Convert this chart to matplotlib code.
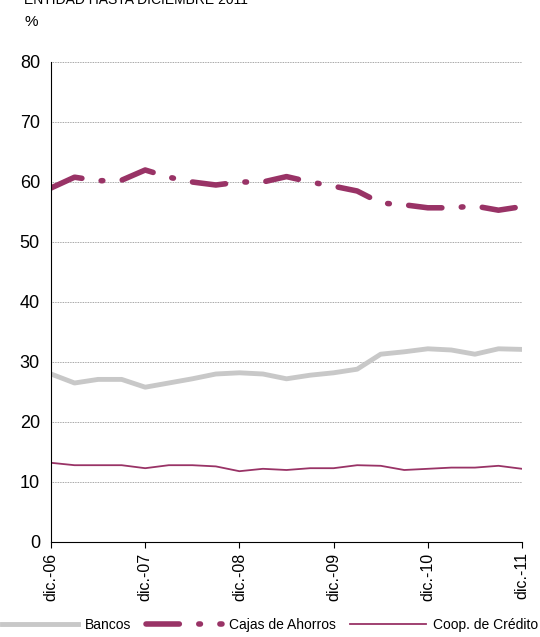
import matplotlib
matplotlib.use("Agg")
import matplotlib.pyplot as plt

# ── Data (quarterly, dic-06 .. dic-11) ───────────────────────────────────────
bancos = [28.0, 26.5, 27.1, 27.1, 25.8, 26.5, 27.2, 28.0, 28.2, 28.0, 27.2,
          27.8, 28.2, 28.8, 31.3, 31.7, 32.2, 32.0, 31.3, 32.2, 32.1]
cajas = [59.0, 60.8, 60.2, 60.3, 62.0, 60.8, 60.0, 59.5, 60.0, 60.0, 60.9,
         60.0, 59.3, 58.5, 56.5, 56.2, 55.7, 55.7, 56.0, 55.3, 55.9]
coop = [13.2, 12.8, 12.8, 12.8, 12.3, 12.8, 12.8, 12.6, 11.8, 12.2, 12.0,
        12.3, 12.3, 12.8, 12.7, 12.0, 12.2, 12.4, 12.4, 12.7, 12.2]
tick_labels = ["dic.-06", "dic.-07", "dic.-08", "dic.-09", "dic.-10", "dic.-11"]

plt.rcParams["font.family"] = ["Liberation Sans", "DejaVu Sans"]

fig = plt.figure(figsize=(5.4, 6.37), dpi=100)
ax = fig.add_axes([51 / 540, 1 - 542 / 637, 471 / 540, 480 / 637])

x = list(range(len(bancos)))
ax.plot(x, bancos, color="#c8c8c8", lw=3.5, label="Bancos")
ax.plot(x, cajas, color="#993366", lw=4, dashes=(6, 3.5, 0.3, 3.5),
        dash_capstyle="round", label="Cajas de Ahorros")
ax.plot(x, coop, color="#993366", lw=1.3, label="Coop. de Crédito")

ax.set_xlim(0, 20)
ax.set_ylim(0, 80)
ax.set_yticks(range(0, 81, 10))
ax.set_xticks(range(0, 21, 4))
ax.set_xticklabels(tick_labels, rotation=90, fontsize=11.5)
ax.tick_params(axis="y", labelsize=13, length=0, pad=8)
ax.tick_params(axis="x", length=4)
ax.grid(axis="y", color="#888888", lw=0.6, ls=(0, (1, 1)))
for s in ["top", "right"]:
    ax.spines[s].set_visible(False)

fig.text(0.045, 1.0, "ENTIDAD HASTA DICIEMBRE 2011", fontsize=10, va="center", ha="left")
fig.text(0.045, 0.965, "%", fontsize=11, va="center", ha="left")

fig.legend(loc="lower center", bbox_to_anchor=(0.5, -0.012), ncol=3, frameon=False,
           fontsize=10, handlelength=5.5, columnspacing=1.0, handletextpad=0.5)

fig.savefig("out.png", dpi=100)
